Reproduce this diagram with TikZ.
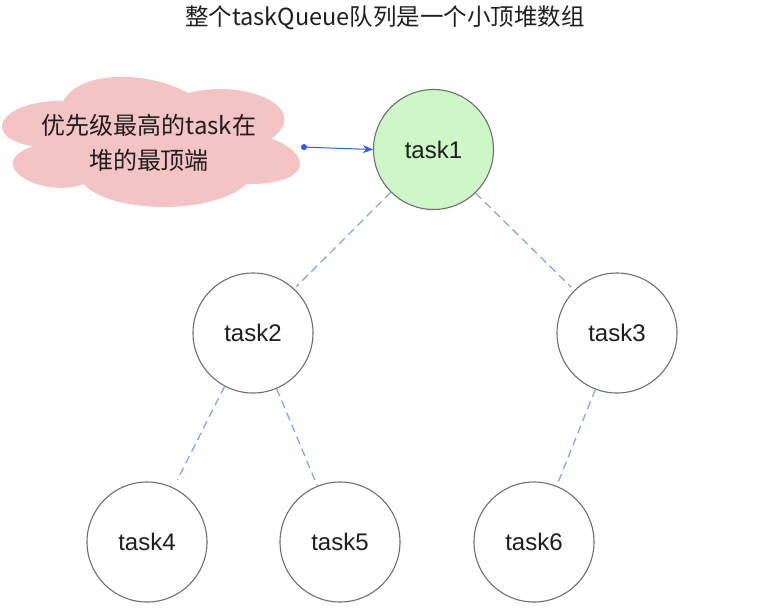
\documentclass[tikz,border=0pt]{standalone}
\usepackage{fontspec}
\setmainfont{Liberation Sans}
\newfontfamily\cjk{Noto Sans CJK SC}
\usetikzlibrary{arrows.meta,calc}
\definecolor{greenfill}{HTML}{CDF7C6}
\definecolor{pinkfill}{HTML}{F4C4C4}
\definecolor{edgeblue}{HTML}{82A8F2}
\definecolor{arrowblue}{HTML}{2A5CFF}
\definecolor{ringgray}{HTML}{6E6E6E}
\definecolor{txt}{HTML}{1E1E1E}
\begin{document}
\begin{tikzpicture}[x=1pt,y=-1pt,
  every node/.style={text=txt,font=\fontsize{24}{35}\selectfont},
  tasknode/.style={circle,draw=ringgray,line width=1.1pt,fill=white,minimum size=120pt,inner sep=0pt},
  treeedge/.style={draw=edgeblue,line width=1.3pt,dash pattern=on 8pt off 5pt},
  cloudfill/.style={fill=pinkfill,draw=none}]
\useasboundingbox (0,0) rectangle (758,614);
\node[font=\fontsize{23.5}{30}\selectfont] (title) at (385,18) {\cjk{整个}taskQueue\cjk{队列是一个小顶堆数组}};
\begin{scope}[shift={(-19.6pt,-62.7pt)},x=332.6pt,y=-151.9pt]
\path[cloudfill] (0.25,0.25) .. controls (0.05,0.25) and (0,0.5) .. (0.16,0.55)
  .. controls (0,0.66) and (0.18,0.9) .. (0.31,0.8)
  .. controls (0.4,1) and (0.7,1) .. (0.8,0.8)
  .. controls (1,0.8) and (1,0.6) .. (0.875,0.5)
  .. controls (1,0.3) and (0.8,0.1) .. (0.625,0.2)
  .. controls (0.5,0.05) and (0.3,0.05) .. (0.25,0.25) -- cycle;
\end{scope}
\node[align=center] (notetext) at (149,142.5) {\cjk{优先级最高的}task\cjk{在}\\\cjk{堆的最顶端}};
\node[tasknode,fill=greenfill] (t1) at (433.5,149.5) {task1};
\node[tasknode] (t2) at (253,333) {task2};
\node[tasknode] (t3) at (617,333) {task3};
\node[tasknode] (t4) at (147,542) {task4};
\node[tasknode] (t5) at (340,542) {task5};
\node[tasknode] (t6) at (534,542) {task6};
\coordinate (start) at (301,147);
\draw[arrowblue,line width=1pt,{Circle[length=6pt]}-{Stealth[length=10pt,width=8pt]}] (start) -- (t1.west);
\draw[treeedge] (t1.225) -- ($(t2.center)!1.05!(t2.47)$);
\draw[treeedge] (t1.314) -- ($(t3.center)!1.07!(t3.135)$);
\draw[treeedge] (t2.242) -- ($(t4.center)!1.14!(t4.64)$);
\draw[treeedge] (t2.293) -- (t5.112);
\draw[treeedge] (t3.249) -- (t6.68);
\end{tikzpicture}
\end{document}
